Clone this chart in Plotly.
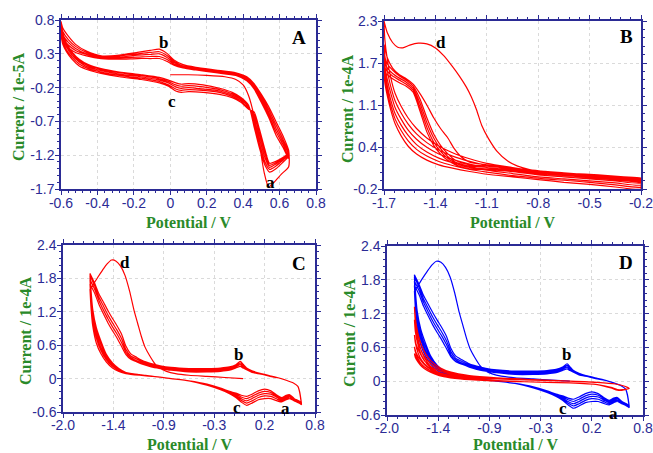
import plotly.graph_objects as go

# ---------------- Panel A (x: V, y: 1e-5 A) ----------------
A_start_x = [0.00, 0.10, 0.20, 0.30, 0.36, 0.40, 0.43, 0.46, 0.49, 0.515, 0.54, 0.57, 0.61, 0.65]
A_start_y = [-0.01, -0.01, -0.02, -0.04, -0.08, -0.16, -0.32, -0.62, -1.05, -1.45, -1.67, -1.60, -1.48, -1.37]

A_up_x = [0.65, 0.62, 0.58, 0.54, 0.50, 0.46, 0.42, 0.36, 0.25, 0.14, 0.07, 0.02, -0.02, -0.06,
          -0.11, -0.18, -0.28, -0.38, -0.46, -0.52, -0.56, -0.59, -0.60]
A_up_y = [
    [-1.13, -0.92, -0.70, -0.48, -0.30, -0.14, -0.04, 0.02, 0.06, 0.10, 0.14, 0.21, 0.31, 0.37, 0.35, 0.32, 0.28, 0.27, 0.34, 0.44, 0.56, 0.68, 0.78],
    [-1.16, -0.97, -0.75, -0.52, -0.33, -0.16, -0.05, 0.01, 0.05, 0.09, 0.12, 0.19, 0.28, 0.33, 0.32, 0.30, 0.27, 0.26, 0.32, 0.41, 0.51, 0.63, 0.73],
    [-1.19, -1.01, -0.80, -0.56, -0.36, -0.18, -0.06, 0.00, 0.04, 0.08, 0.11, 0.17, 0.25, 0.30, 0.29, 0.28, 0.25, 0.25, 0.30, 0.38, 0.47, 0.58, 0.68],
    [-1.22, -1.05, -0.85, -0.60, -0.39, -0.20, -0.08, -0.01, 0.03, 0.07, 0.10, 0.15, 0.22, 0.26, 0.26, 0.25, 0.24, 0.24, 0.29, 0.35, 0.43, 0.53, 0.62],
    [-1.25, -1.09, -0.90, -0.64, -0.42, -0.22, -0.10, -0.02, 0.02, 0.06, 0.09, 0.13, 0.19, 0.23, 0.23, 0.23, 0.22, 0.23, 0.27, 0.32, 0.39, 0.48, 0.57],
]
A_lo_x = [-0.60, -0.59, -0.57, -0.54, -0.50, -0.45, -0.38, -0.28, -0.16, -0.06, -0.01, 0.03, 0.06, 0.10,
          0.18, 0.27, 0.34, 0.39, 0.43, 0.46, 0.49, 0.52, 0.545, 0.58, 0.62, 0.65]
A_lo_y = [
    [0.78, 0.60, 0.46, 0.33, 0.22, 0.14, 0.08, 0.03, -0.01, -0.05, -0.09, -0.13, -0.15, -0.14, -0.16, -0.21, -0.27, -0.35, -0.46, -0.78, -1.10, -1.35, -1.45, -1.40, -1.30, -1.22],
    [0.73, 0.56, 0.43, 0.31, 0.20, 0.12, 0.07, 0.02, -0.02, -0.07, -0.11, -0.16, -0.18, -0.17, -0.19, -0.23, -0.29, -0.36, -0.47, -0.72, -1.03, -1.30, -1.41, -1.36, -1.27, -1.20],
    [0.68, 0.52, 0.40, 0.28, 0.18, 0.10, 0.05, 0.00, -0.04, -0.09, -0.13, -0.19, -0.21, -0.20, -0.22, -0.25, -0.31, -0.38, -0.49, -0.66, -0.96, -1.24, -1.38, -1.33, -1.25, -1.19],
    [0.62, 0.48, 0.36, 0.25, 0.15, 0.08, 0.03, -0.02, -0.06, -0.11, -0.16, -0.22, -0.24, -0.23, -0.24, -0.27, -0.33, -0.40, -0.51, -0.60, -0.89, -1.18, -1.35, -1.31, -1.24, -1.18],
    [0.57, 0.44, 0.33, 0.22, 0.12, 0.06, 0.01, -0.04, -0.08, -0.13, -0.18, -0.25, -0.27, -0.26, -0.27, -0.30, -0.35, -0.42, -0.52, -0.56, -0.82, -1.12, -1.32, -1.29, -1.23, -1.17],
]

# ---------------- Panel B (1e-4 A) ----------------
B_lo_x = [-0.20, -0.35, -0.50, -0.65, -0.80, -0.95, -1.10, -1.20, -1.30, -1.38, -1.45, -1.51, -1.56,
          -1.60, -1.635, -1.66, -1.68, -1.695, -1.70]
B_lo_y = [
    [-0.05, -0.02, 0.01, 0.04, 0.07, 0.12, 0.18, 0.25, 0.34, 0.44, 0.56, 0.70, 0.86, 1.03, 1.22, 1.45, 1.72, 2.02, 2.30],
    [-0.08, -0.05, -0.02, 0.01, 0.04, 0.09, 0.15, 0.21, 0.29, 0.38, 0.49, 0.62, 0.77, 0.93, 1.11, 1.32, 1.55, 1.78, 1.95],
    [-0.11, -0.08, -0.05, -0.02, 0.01, 0.06, 0.12, 0.17, 0.24, 0.32, 0.42, 0.54, 0.68, 0.84, 1.01, 1.22, 1.42, 1.64, 1.80],
    [-0.14, -0.11, -0.08, -0.05, -0.02, 0.03, 0.08, 0.13, 0.19, 0.26, 0.35, 0.46, 0.60, 0.75, 0.92, 1.12, 1.33, 1.54, 1.70],
    [-0.17, -0.14, -0.10, -0.07, -0.04, 0.00, 0.05, 0.09, 0.15, 0.21, 0.29, 0.39, 0.52, 0.67, 0.84, 1.04, 1.25, 1.45, 1.62],
    [-0.20, -0.17, -0.13, -0.10, -0.06, -0.02, 0.02, 0.06, 0.11, 0.16, 0.23, 0.32, 0.44, 0.59, 0.77, 0.97, 1.18, 1.38, 1.55],
]
B_d_x = [-1.70, -1.68, -1.65, -1.62, -1.59, -1.55, -1.50, -1.45, -1.40, -1.35, -1.30, -1.26, -1.22,
         -1.19, -1.16, -1.13, -1.09, -1.04, -0.98, -0.92, -0.85, -0.75, -0.60, -0.45, -0.30, -0.20]
B_d_y = [2.30, 2.12, 1.98, 1.91, 1.90, 1.94, 1.97, 1.96, 1.90, 1.78, 1.62, 1.48, 1.32,
         1.17, 0.98, 0.75, 0.55, 0.36, 0.22, 0.14, 0.09, 0.06, 0.03, 0.01, -0.02, -0.04]
B_ret_x = [-1.70, -1.68, -1.65, -1.61, -1.57, -1.53, -1.49, -1.45, -1.41, -1.37, -1.33, -1.29, -1.25,
           -1.20, -1.10, -0.95, -0.80, -0.60, -0.40, -0.20]
B_ret_y = [
    [1.95, 1.75, 1.60, 1.50, 1.44, 1.36, 1.22, 1.05, 0.86, 0.70, 0.57, 0.40, 0.28, 0.20, 0.16, 0.11, 0.07, 0.03, -0.01, -0.05],
    [1.80, 1.66, 1.57, 1.48, 1.42, 1.33, 1.14, 0.86, 0.62, 0.45, 0.33, 0.24, 0.19, 0.16, 0.14, 0.10, 0.06, 0.02, -0.02, -0.07],
    [1.70, 1.60, 1.52, 1.45, 1.39, 1.30, 1.08, 0.79, 0.56, 0.40, 0.29, 0.21, 0.17, 0.14, 0.12, 0.08, 0.05, 0.01, -0.03, -0.08],
    [1.62, 1.55, 1.48, 1.42, 1.36, 1.27, 1.02, 0.72, 0.50, 0.36, 0.26, 0.19, 0.15, 0.12, 0.10, 0.07, 0.04, 0.00, -0.04, -0.09],
    [1.55, 1.50, 1.44, 1.38, 1.33, 1.24, 0.96, 0.65, 0.45, 0.32, 0.23, 0.17, 0.13, 0.10, 0.09, 0.06, 0.03, -0.01, -0.05, -0.10],
]

# ---------------- Panel C (and blue curves of D), 1e-4 A ----------------
C_start_x = [0.00, -0.20, -0.40, -0.60, -0.75, -0.85, -0.92, -0.98, -1.04, -1.09, -1.13, -1.17, -1.21,
             -1.26, -1.31, -1.36, -1.41, -1.46, -1.51, -1.56, -1.61, -1.66, -1.70]
C_start_y = [0.00, 0.02, 0.04, 0.06, 0.09, 0.13, 0.18, 0.27, 0.42, 0.57, 0.76, 0.99, 1.22,
             1.57, 1.85, 2.02, 2.11, 2.13, 2.06, 1.95, 1.83, 1.70, 1.60]
C_lo_x = [-1.70, -1.69, -1.67, -1.63, -1.58, -1.52, -1.45, -1.38, -1.30, -1.15, -1.00, -0.80, -0.60,
          -0.40, -0.25, -0.15, -0.08, -0.02, 0.04, 0.10, 0.17, 0.24, 0.31, 0.38, 0.43, 0.48, 0.52,
          0.57, 0.62, 0.65]
C_lo_y = [
    [1.60, 1.30, 0.95, 0.64, 0.45, 0.30, 0.19, 0.13, 0.09, 0.06, 0.04, 0.00, -0.04, -0.12, -0.20, -0.27, -0.34, -0.42, -0.48, -0.44, -0.38, -0.36, -0.36, -0.40, -0.42, -0.38, -0.36, -0.40, -0.44, -0.47],
    [1.89, 1.62, 1.25, 0.92, 0.68, 0.44, 0.28, 0.18, 0.11, 0.07, 0.04, 0.00, -0.04, -0.12, -0.20, -0.26, -0.32, -0.39, -0.44, -0.40, -0.34, -0.31, -0.32, -0.37, -0.40, -0.36, -0.34, -0.39, -0.43, -0.46],
    [1.85, 1.55, 1.17, 0.85, 0.62, 0.40, 0.26, 0.17, 0.11, 0.07, 0.04, 0.00, -0.04, -0.11, -0.19, -0.25, -0.30, -0.36, -0.40, -0.36, -0.30, -0.27, -0.28, -0.34, -0.38, -0.34, -0.32, -0.38, -0.42, -0.45],
    [1.78, 1.47, 1.10, 0.79, 0.56, 0.37, 0.24, 0.16, 0.10, 0.07, 0.04, 0.00, -0.04, -0.11, -0.18, -0.24, -0.28, -0.33, -0.36, -0.32, -0.26, -0.23, -0.25, -0.32, -0.36, -0.32, -0.30, -0.37, -0.41, -0.45],
    [1.70, 1.40, 1.04, 0.73, 0.51, 0.34, 0.22, 0.15, 0.10, 0.07, 0.04, 0.00, -0.04, -0.10, -0.17, -0.23, -0.26, -0.30, -0.32, -0.28, -0.22, -0.19, -0.22, -0.30, -0.34, -0.30, -0.29, -0.36, -0.40, -0.44],
]
C_up_x = [0.65, 0.63, 0.61, 0.56, 0.48, 0.40, 0.30, 0.20, 0.10, 0.04, 0.00, -0.03, -0.08, -0.15, -0.25,
          -0.40, -0.60, -0.80, -0.92, -1.02, -1.10, -1.18, -1.25, -1.30, -1.35, -1.40, -1.45, -1.50,
          -1.55, -1.60, -1.65, -1.70]
C_up_y = [
    [-0.47, -0.25, -0.14, -0.08, -0.03, 0.01, 0.05, 0.09, 0.14, 0.19, 0.26, 0.31, 0.25, 0.21, 0.19, 0.18, 0.18, 0.20, 0.23, 0.27, 0.31, 0.38, 0.45, 0.58, 0.80, 0.95, 1.08, 1.22, 1.37, 1.52, 1.72, 1.89],
    [-0.46, -0.25, -0.14, -0.08, -0.03, 0.01, 0.05, 0.09, 0.13, 0.18, 0.23, 0.28, 0.23, 0.19, 0.17, 0.16, 0.16, 0.18, 0.21, 0.25, 0.29, 0.35, 0.41, 0.52, 0.72, 0.87, 1.00, 1.14, 1.30, 1.46, 1.67, 1.85],
    [-0.45, -0.24, -0.14, -0.08, -0.03, 0.01, 0.05, 0.08, 0.12, 0.17, 0.21, 0.25, 0.21, 0.17, 0.15, 0.14, 0.14, 0.16, 0.19, 0.23, 0.27, 0.32, 0.38, 0.47, 0.65, 0.80, 0.93, 1.07, 1.23, 1.40, 1.61, 1.78],
    [-0.45, -0.24, -0.14, -0.08, -0.03, 0.01, 0.04, 0.08, 0.11, 0.16, 0.19, 0.22, 0.19, 0.15, 0.13, 0.12, 0.12, 0.15, 0.18, 0.21, 0.25, 0.30, 0.35, 0.43, 0.58, 0.73, 0.86, 1.00, 1.16, 1.33, 1.54, 1.70],
]

# ---------------- Panel D red curves (1e-4 A) ----------------
D_red_up_x = [0.65, 0.60, 0.50, 0.30, 0.00, -0.40, -0.80, -1.10, -1.30, -1.42, -1.52, -1.59, -1.64, -1.68, -1.70]
D_red_up_y = [
    [-0.13, -0.09, -0.05, -0.02, 0.00, 0.03, 0.06, 0.10, 0.16, 0.24, 0.36, 0.52, 0.72, 1.00, 1.32],
    [-0.13, -0.09, -0.05, -0.02, 0.00, 0.03, 0.05, 0.09, 0.14, 0.21, 0.31, 0.44, 0.60, 0.82, 1.09],
    [-0.13, -0.09, -0.05, -0.02, 0.00, 0.02, 0.05, 0.08, 0.12, 0.18, 0.26, 0.36, 0.50, 0.65, 0.82],
    [-0.13, -0.09, -0.05, -0.02, 0.00, 0.02, 0.04, 0.07, 0.10, 0.15, 0.21, 0.29, 0.39, 0.50, 0.61],
    [-0.13, -0.09, -0.05, -0.02, 0.00, 0.02, 0.04, 0.06, 0.09, 0.13, 0.18, 0.25, 0.33, 0.42, 0.49],
]
D_red_lo_x = [-1.70, -1.69, -1.66, -1.62, -1.56, -1.48, -1.38, -1.20, -0.90, -0.50, 0.00, 0.30, 0.45, 0.52, 0.58, 0.65]
D_red_lo_y = [
    [1.32, 1.05, 0.75, 0.52, 0.34, 0.20, 0.12, 0.06, 0.02, -0.01, -0.03, -0.06, -0.12, -0.16, -0.16, -0.13],
    [1.09, 0.88, 0.64, 0.45, 0.30, 0.18, 0.11, 0.05, 0.02, -0.01, -0.03, -0.06, -0.12, -0.16, -0.16, -0.13],
    [0.82, 0.68, 0.50, 0.37, 0.26, 0.16, 0.10, 0.05, 0.01, -0.01, -0.03, -0.06, -0.12, -0.16, -0.16, -0.13],
    [0.61, 0.52, 0.40, 0.30, 0.22, 0.14, 0.09, 0.04, 0.01, -0.01, -0.03, -0.06, -0.11, -0.15, -0.15, -0.13],
    [0.49, 0.42, 0.34, 0.26, 0.19, 0.13, 0.08, 0.04, 0.01, -0.01, -0.03, -0.06, -0.11, -0.15, -0.15, -0.13],
]

# ---------------- Axis ticks ----------------
A_xticks = [-0.6, -0.4, -0.2, 0.0, 0.2, 0.4, 0.6, 0.8]
A_xtext = ["-0.6", "-0.4", "-0.2", "0", "0.2", "0.4", "0.6", "0.8"]
A_yticks = [-1.7, -1.2, -0.7, -0.2, 0.3, 0.8]
A_ytext = ["-1.7", "-1.2", "-0.7", "-0.2", "0.3", "0.8"]
B_xticks = [-1.7, -1.4, -1.1, -0.8, -0.5, -0.2]
B_xtext = ["-1.7", "-1.4", "-1.1", "-0.8", "-0.5", "-0.2"]
B_yticks = [-0.2, 0.425, 1.05, 1.675, 2.3]
B_ytext = ["-0.2", "0.4", "1.1", "1.7", "2.3"]
CD_xticks = [-2.0, -1.44, -0.88, -0.32, 0.24, 0.8]
CD_xtext = ["-2.0", "-1.4", "-0.9", "-0.3", "0.2", "0.8"]
CD_yticks = [-0.6, 0.0, 0.6, 1.2, 1.8, 2.4]
CD_ytext = ["-0.6", "0", "0.6", "1.2", "1.8", "2.4"]

NAVY = "#2b2b95"
GREEN = "#2a8a2a"
RED = "#ff0000"
BLUE = "#0000ff"


def build(segments):
    xs, ys = [], []
    for sx, sy in segments:
        xs += list(sx)
        ys += list(sy)
    return xs, ys


segA = [(A_start_x, A_start_y)]
for k in range(len(A_up_y)):
    segA += [(A_up_x, A_up_y[k]), (A_lo_x, A_lo_y[k])]
Ax, Ay = build(segA)

segB = [(B_lo_x, B_lo_y[0]), (B_d_x, B_d_y)]
for k in range(len(B_ret_y)):
    segB += [(B_lo_x, B_lo_y[k + 1]), (B_ret_x, B_ret_y[k])]
Bx, By = build(segB)

segC = [(C_start_x, C_start_y), (C_lo_x, C_lo_y[0])]
for k in range(len(C_up_y)):
    segC += [(C_up_x, C_up_y[k]), (C_lo_x, C_lo_y[k + 1])]
Cx, Cy = build(segC)

segR = []
for k in range(len(D_red_up_y)):
    segR += [(D_red_up_x, D_red_up_y[k]), (D_red_lo_x, D_red_lo_y[k])]
Rx, Ry = build(segR)

fig = go.Figure()
line_kw = dict(shape="spline", smoothing=0.6, width=1.2)
fig.add_trace(go.Scatter(x=Ax, y=Ay, mode="lines", line=dict(color=RED, **line_kw), xaxis="x", yaxis="y"))
fig.add_trace(go.Scatter(x=Bx, y=By, mode="lines", line=dict(color=RED, **line_kw), xaxis="x2", yaxis="y2"))
fig.add_trace(go.Scatter(x=Cx, y=Cy, mode="lines", line=dict(color=RED, **line_kw), xaxis="x3", yaxis="y3"))
fig.add_trace(go.Scatter(x=Cx, y=Cy, mode="lines", line=dict(color=BLUE, **line_kw), xaxis="x4", yaxis="y4"))
fig.add_trace(go.Scatter(x=Rx, y=Ry, mode="lines", line=dict(color=RED, **line_kw), xaxis="x4", yaxis="y4"))

W, H = 653, 453


def dom_x(p0, p1):
    return [p0 / W, p1 / W]


def dom_y(p_top, p_bot):
    return [1 - p_bot / H, 1 - p_top / H]


def axis(rng, tv, tt, domain, anchor, minor_dtick, standoff):
    return dict(
        range=rng, domain=domain, anchor=anchor, tickmode="array", tickvals=tv, ticktext=tt,
        showline=True, linecolor=NAVY, linewidth=1.5, mirror="ticks",
        ticks="outside", ticklen=4, tickwidth=1, tickcolor=NAVY, ticklabelstandoff=standoff,
        ticklabeloverflow="allow",
        tickfont=dict(family="Arial, Liberation Sans, sans-serif", size=14, color=NAVY),
        showgrid=True, gridcolor="#dadada", griddash="dot", gridwidth=1, zeroline=False,
        automargin=False,
        minor=dict(tickmode="linear", tick0=rng[0], dtick=minor_dtick, ticks="outside",
                   ticklen=2, tickwidth=1, tickcolor=NAVY, showgrid=False),
    )


layout = dict(
    width=W, height=H, autosize=False, showlegend=False,
    margin=dict(l=0, r=0, t=0, b=0, pad=0),
    paper_bgcolor="white", plot_bgcolor="white",
    xaxis=axis([-0.6, 0.8], A_xticks, A_xtext, dom_x(61, 316), "y", 0.04, -4),
    yaxis=axis([-1.7, 0.8], A_yticks, A_ytext, dom_y(20, 189), "x", 0.1, -2),
    xaxis2=axis([-1.7, -0.2], B_xticks, B_xtext, dom_x(384, 641), "y2", 0.06, -4),
    yaxis2=axis([-0.2, 2.3], B_yticks, B_ytext, dom_y(21, 189), "x2", 0.125, -2),
    xaxis3=axis([-2.0, 0.8], CD_xticks, CD_xtext, dom_x(63, 315), "y3", 0.112, -5),
    yaxis3=axis([-0.6, 2.4], CD_yticks, CD_ytext, dom_y(245, 412), "x3", 0.12, -2),
    xaxis4=axis([-2.0, 0.8], CD_xticks, CD_xtext, dom_x(387, 643), "y4", 0.112, -5),
    yaxis4=axis([-0.6, 2.4], CD_yticks, CD_ytext, dom_y(246, 415), "x4", 0.12, -2),
)
fig.update_layout(**layout)

SERIF = "Times New Roman, Liberation Serif, serif"


def ann(text, px, py, size, color="black", angle=0):
    return dict(text=text, x=px / W, y=1 - py / H, xref="paper", yref="paper",
                showarrow=False, textangle=angle, xanchor="center", yanchor="middle",
                font=dict(family=SERIF, size=size, color=color))


annotations = [
    # axis titles
    ann("<b>Potential / V</b>", 188, 222, 16, GREEN),
    ann("<b>Potential / V</b>", 512, 222, 16, GREEN),
    ann("<b>Potential / V</b>", 189, 444, 16, GREEN),
    ann("<b>Potential / V</b>", 515, 444, 16, GREEN),
    ann("<b>Current / 1e-5A</b>", 18, 107, 16, GREEN, -90),
    ann("<b>Current / 1e-4A</b>", 347, 109, 16, GREEN, -90),
    ann("<b>Current / 1e-4A</b>", 25, 330, 16, GREEN, -90),
    ann("<b>Current / 1e-4A</b>", 349, 333, 16, GREEN, -90),
    # panel letters
    ann("<b>A</b>", 299, 38, 19),
    ann("<b>B</b>", 626, 37, 19),
    ann("<b>C</b>", 299, 263, 19),
    ann("<b>D</b>", 626, 262, 19),
    # peak labels
    ann("<b>b</b>", 163, 42, 17),
    ann("<b>c</b>", 172, 101, 17),
    ann("<b>a</b>", 270, 182, 17),
    ann("<b>d</b>", 441, 42, 17),
    ann("<b>d</b>", 125, 262, 17),
    ann("<b>b</b>", 238, 354, 17),
    ann("<b>c</b>", 237, 407, 17),
    ann("<b>a</b>", 285, 408, 17),
    ann("<b>b</b>", 566, 354, 17),
    ann("<b>c</b>", 563, 408, 17),
    ann("<b>a</b>", 613, 413, 17),
]
fig.update_layout(annotations=annotations)

fig.write_html(
    "out.html",
    config={"displayModeBar": False},
    post_script="document.body.style.margin='0px';document.body.style.overflow='hidden';",
)
